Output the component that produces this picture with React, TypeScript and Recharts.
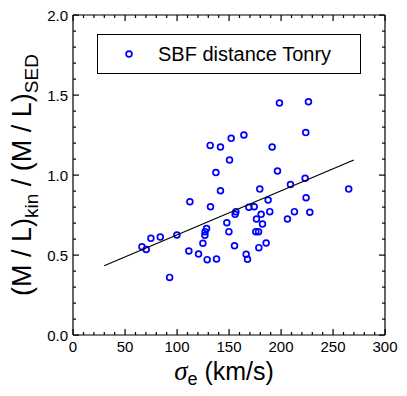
import { ScatterChart, Scatter, XAxis, YAxis } from 'recharts'

// velocity dispersion sigma_e (km/s) and (M/L)kin/(M/L)SED
const sigma = [66.3, 70.4, 74.9, 83.9, 99.9, 92.9, 111.4, 112.4, 120.7, 124.9, 126.8, 127, 128.4, 129, 132.2, 131.9, 138, 137.4, 141.8, 141.8, 147.9, 149.9, 150.5, 152.1, 155.3, 155.9, 156.6, 164.3, 166.5, 167.8, 169.1, 174.2, 175.8, 176.4, 178.4, 178.7, 179.6, 180.9, 182.2, 185.7, 187.6, 189.2, 191.5, 196.6, 198.5, 206.2, 209.1, 212.9, 223.2, 223.8, 224.1, 226.4, 227.7, 265.1]
const mlRatio = [0.552, 0.535, 0.604, 0.612, 0.625, 0.36, 0.525, 0.833, 0.506, 0.573, 0.623, 0.646, 0.665, 0.471, 0.802, 1.185, 0.475, 1.015, 1.175, 0.902, 0.702, 0.646, 1.094, 1.229, 0.558, 0.754, 0.771, 1.25, 0.504, 0.473, 0.798, 0.802, 0.646, 0.725, 0.646, 0.546, 0.912, 0.754, 0.694, 0.575, 0.844, 0.771, 1.175, 1.025, 1.45, 0.725, 0.94, 0.771, 0.979, 1.265, 0.858, 1.458, 0.767, 0.912]

// linear fit
const fitX = [30, 270]
const fitY = [0.433, 1.094]

const xMajor = [0, 50, 100, 150, 200, 250, 300]
const yMajor = [0, 0.5, 1, 1.5, 2]
const xTicks = Array.from({ length: 31 }, (_, i) => i * 10)
const yTicks = Array.from({ length: 21 }, (_, i) => Math.round(i * 10) / 100)

const points = sigma.map((s, i) => ({ x: s, y: mlRatio[i] }))
const fit = fitX.map((x, i) => ({ x, y: fitY[i] }))

const FONT = '"Liberation Sans", Arial, Helvetica, sans-serif'
const BLUE = '#0000ff'

const isMajor = (v: number, list: number[]) => list.some(m => Math.abs(m - v) < 1e-6)

function BottomTick(props: any) {
  const { x, y, payload } = props
  const major = isMajor(payload.value, xMajor)
  return (
    <g>
      <rect x={x - 0.5} y={y - (major ? 6 : 3)} width={1.2} height={major ? 6 : 3} fill="#000" />
      {major && <text x={x} y={y + 17} textAnchor="middle" fontSize={15} fontFamily={FONT} fill="#000">{payload.value}</text>}
    </g>
  )
}
function TopTick({ x, y, payload }: any) {
  const major = isMajor(payload.value, xMajor)
  return <rect x={x - 0.5} y={y} width={1.2} height={major ? 6 : 3} fill="#000" />
}
function LeftTick({ x, y, payload }: any) {
  const major = isMajor(payload.value, yMajor)
  return (
    <g>
      <rect x={x} y={y - 0.5} width={major ? 6 : 3} height={1.2} fill="#000" />
      {major && <text x={x - 5} y={y + 5.5} textAnchor="end" fontSize={15} fontFamily={FONT} fill="#000">{payload.value.toFixed(1)}</text>}
    </g>
  )
}
function RightTick({ x, y, payload }: any) {
  const major = isMajor(payload.value, yMajor)
  return <rect x={x - (major ? 6 : 3)} y={y - 0.5} width={major ? 6 : 3} height={1.2} fill="#000" />
}

const Ring = ({ cx, cy }: any) => <circle cx={cx} cy={cy} r={2.9} fill="none" stroke={BLUE} strokeWidth={1.7} />

function YLabel() {
  const cx = 31, cy = 175
  return (
    <text x={cx} y={cy} transform={`rotate(-90 ${cx} ${cy})`} textAnchor="middle" fontSize={27} fontFamily={FONT} fill="#000" style={{ whiteSpace: 'pre' }}>
      <tspan>(M / L)</tspan>
      <tspan dy={7} fontSize={19}>kin</tspan>
      <tspan dy={-7}> / (M / L)</tspan>
      <tspan dy={7} fontSize={19}>SED</tspan>
    </text>
  )
}
function XLabel() {
  return (
    <text x={224} y={380} textAnchor="middle" fontSize={25} fontFamily={FONT} fill="#000" style={{ whiteSpace: 'pre' }}>
      <tspan fontFamily='"Liberation Serif", serif' fontStyle="italic" fontSize={27}>σ</tspan>
      <tspan dy={5} fontSize={18}>e</tspan>
      <tspan dy={-5}> (km/s)</tspan>
    </text>
  )
}

export default function App() {
  return (
    <div style={{ position: 'absolute', left: 0, top: 0, width: 407, height: 396, background: '#fff' }}>
      <ScatterChart width={407} height={396} margin={{ top: 14, right: 21, bottom: 0, left: 0 }}>
        <XAxis xAxisId="b" dataKey="x" type="number" domain={[0, 300]} allowDataOverflow ticks={xTicks} interval={0}
          tick={BottomTick} tickLine={false} tickSize={0} tickMargin={0} height={61} axisLine={{ stroke: '#000', strokeWidth: 1.2 }}
          label={{ content: XLabel }} />
        <XAxis xAxisId="t" orientation="top" dataKey="x" type="number" domain={[0, 300]} allowDataOverflow ticks={xTicks} interval={0}
          tick={TopTick} tickLine={false} tickSize={0} tickMargin={0} height={1} axisLine={{ stroke: '#000', strokeWidth: 1.2 }} />
        <YAxis yAxisId="l" dataKey="y" type="number" domain={[0, 2]} allowDataOverflow ticks={yTicks} interval={0}
          tick={LeftTick} tickLine={false} tickSize={0} tickMargin={0} width={73} axisLine={{ stroke: '#000', strokeWidth: 1.2 }}
          label={{ content: YLabel }} />
        <YAxis yAxisId="r" orientation="right" dataKey="y" type="number" domain={[0, 2]} allowDataOverflow ticks={yTicks} interval={0}
          tick={RightTick} tickLine={false} tickSize={0} tickMargin={0} width={1} axisLine={{ stroke: '#000', strokeWidth: 1.2 }} />
        <Scatter name="SBF distance Tonry" data={points} xAxisId="b" yAxisId="l" shape={Ring} isAnimationActive={false} />
        <Scatter name="fit" data={fit} xAxisId="t" yAxisId="r" line={{ stroke: '#000', strokeWidth: 1.2 }} shape={() => null} isAnimationActive={false} legendType="none" />
      </ScatterChart>
      <div style={{ position: 'absolute', left: 97, top: 34, width: 262, height: 38, border: '1px solid #000', background: '#fff', display: 'flex', alignItems: 'center', fontFamily: FONT, fontSize: 20, color: '#000' }}>
        <svg width={60} height={20} style={{ flexShrink: 0 }}>
          <circle cx={31} cy={10} r={2.9} fill="none" stroke={BLUE} strokeWidth={1.7} />
        </svg>
        <span>SBF distance Tonry</span>
      </div>
    </div>
  )
}
